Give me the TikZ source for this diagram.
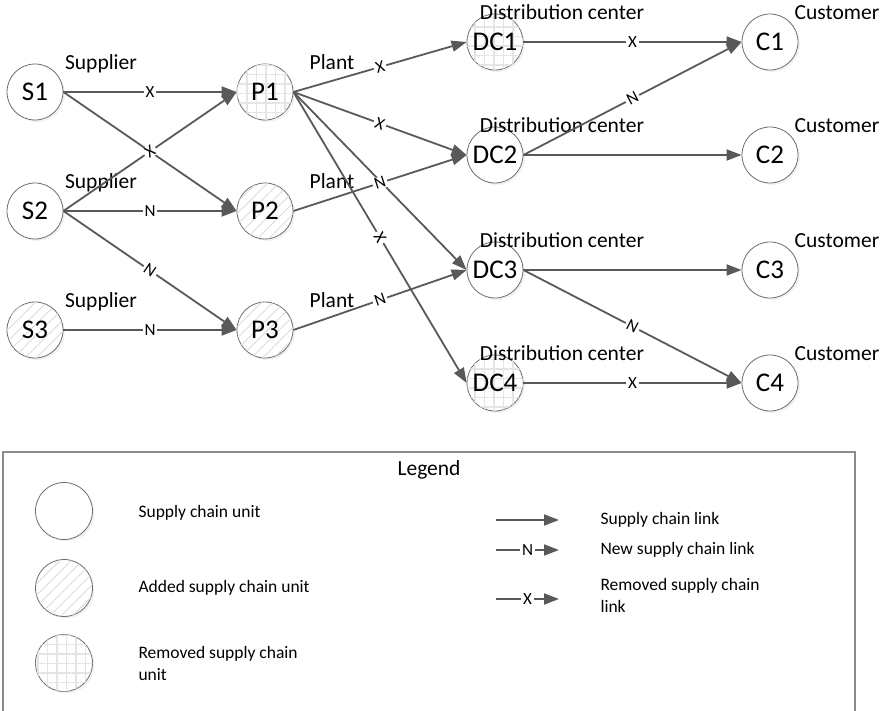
\documentclass[tikz,border=0pt]{standalone}
\usepackage{fontspec}
\setmainfont{Carlito}
\usetikzlibrary{arrows.meta,patterns.meta,shadows}

\definecolor{linegray}{HTML}{595959}
\definecolor{rimgray}{HTML}{6E6E6E}
\definecolor{hatchgray}{HTML}{DCDCDC}
\definecolor{gridgray}{HTML}{E4E4E4}
\definecolor{framegray}{HTML}{8C8C8C}

\begin{document}
\begin{tikzpicture}[x=1pt,y=-1pt,
  unit/.style={circle,draw=rimgray,line width=0.8pt,fill=white,
    minimum size=56pt,inner sep=0pt,font=\fontsize{27}{30}\selectfont,
    drop shadow={shadow xshift=2pt,shadow yshift=-2pt,opacity=0.10}},
  added/.style={unit,postaction={pattern={Lines[angle=45,distance=8pt,line width=0.9pt]},pattern color=hatchgray}},
  removed/.style={unit,postaction={pattern={Hatch[angle=0,distance=9.5pt,line width=1.2pt]},pattern color=gridgray}},
  role/.style={font=\fontsize{21.5}{24}\selectfont,anchor=base},
  link/.style={draw=linegray,line width=1.8pt,-{Triangle[length=15pt,width=11pt]}},
  tick/.style={fill=white,inner xsep=2pt,inner ysep=0.5pt,font=\fontsize{17}{18}\selectfont},
  legtext/.style={font=\fontsize{17.5}{22}\selectfont,anchor=west,align=left}
]
\useasboundingbox (0,0) rectangle (887,711);

% supply chain units
\node[unit]    (S1)  at (35,92)   {S1};
\node[unit]    (S2)  at (35,211)  {S2};
\node[added]   (S3)  at (35,330)  {S3};
\node[removed] (P1)  at (265,92)  {P1};
\node[added]   (P2)  at (265,211) {P2};
\node[added]   (P3)  at (265,330) {P3};
\node[removed] (DC1) at (495,42)  {DC1};
\node[unit]    (DC2) at (495,155) {DC2};
\node[unit]    (DC3) at (495,270) {DC3};
\node[removed] (DC4) at (495,383) {DC4};
\node[unit]    (C1)  at (770,42)  {C1};
\node[unit]    (C2)  at (770,155) {C2};
\node[unit]    (C3)  at (770,270) {C3};
\node[unit]    (C4)  at (770,383) {C4};

% role captions
\node[role] (tS1) at (101,70)  {Supplier};
\node[role] (tS2) at (101,189) {Supplier};
\node[role] (tS3) at (101,308) {Supplier};
\node[role] (tP1) at (332,70)  {Plant};
\node[role] (tP2) at (332,189) {Plant};
\node[role] (tP3) at (332,308) {Plant};
\node[role] (tD1) at (562,20)  {Distribution center};
\node[role] (tD2) at (562,133) {Distribution center};
\node[role] (tD3) at (562,248) {Distribution center};
\node[role] (tD4) at (562,361) {Distribution center};
\node[role] (tC1) at (837,20)  {Customer};
\node[role] (tC2) at (837,133) {Customer};
\node[role] (tC3) at (837,248) {Customer};
\node[role] (tC4) at (837,361) {Customer};

% links: suppliers to plants
\draw[link] (S1.east) -- node[tick]{X} (P1.west);
\draw[link] (S1.east) -- (P2.west);
\draw[link] (S2.east) -- node[tick,sloped]{X} (P1.west);
\draw[link] (S2.east) -- node[tick]{N} (P2.west);
\draw[link] (S2.east) -- node[tick,sloped]{N} (P3.west);
\draw[link] (S3.east) -- node[tick]{N} (P3.west);

% links: plants to distribution centers
\draw[link] (P1.east) -- node[tick,sloped]{X} (DC1.west);
\draw[link] (P1.east) -- node[tick,sloped]{X} (DC2.west);
\draw[link] (P1.east) -- (DC3.west);
\draw[link] (P1.east) -- node[tick,sloped]{X} (DC4.west);
\draw[link] (P2.east) -- node[tick,sloped]{N} (DC2.west);
\draw[link] (P3.east) -- node[tick,sloped]{N} (DC3.west);

% links: distribution centers to customers
\draw[link] (DC1.east) -- node[tick]{X} (C1.west);
\draw[link] (DC2.east) -- node[tick,sloped]{N} (C1.west);
\draw[link] (DC2.east) -- (C2.west);
\draw[link] (DC3.east) -- (C3.west);
\draw[link] (DC3.east) -- node[tick,sloped]{N} (C4.west);
\draw[link] (DC4.east) -- node[tick]{X} (C4.west);

% legend frame
\coordinate (fbl) at (3,714);
\coordinate (ftl) at (3,452);
\coordinate (ftr) at (855,452);
\coordinate (fbr) at (855,714);
\draw[framegray,line width=1.3pt] (fbl) -- (ftl) -- (ftr) -- (fbr);
\node[font=\fontsize{21.5}{24}\selectfont] (legtitle) at (429,470) {Legend};

% legend: units
\node[unit,minimum size=57pt]    (L1) at (64,511) {};
\node[added,minimum size=57pt]   (L2) at (64,588) {};
\node[removed,minimum size=57pt] (L3) at (64,663) {};
\node[legtext] (L1t) at (135,513) {Supply chain unit};
\node[legtext] (L2t) at (135,588) {Added supply chain unit};
\node[legtext] (L3t) at (135,663) {Removed supply chain\\unit};

% legend: links
\coordinate (la1) at (496,520); \coordinate (lb1) at (559,520);
\coordinate (la2) at (496,550); \coordinate (lb2) at (559,550);
\coordinate (la3) at (496,599); \coordinate (lb3) at (559,599);
\draw[link] (la1) -- (lb1);
\draw[link] (la2) -- node[tick]{N} (lb2);
\draw[link] (la3) -- node[tick]{X} (lb3);
\node[legtext] (K1t) at (597,520) {Supply chain link};
\node[legtext] (K2t) at (597,550) {New supply chain link};
\node[legtext] (K3t) at (597,595) {Removed supply chain\\link};
\end{tikzpicture}
\end{document}
